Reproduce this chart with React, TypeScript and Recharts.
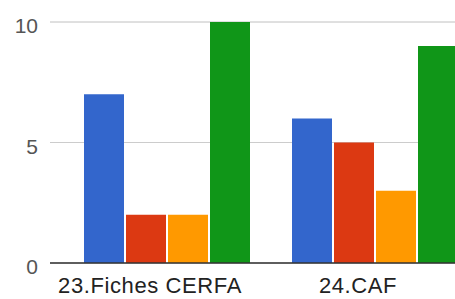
import React from "react";
import { BarChart, Bar, XAxis, YAxis, CartesianGrid } from "recharts";

const categories = ["23.Fiches CERFA", "24.CAF"];
const blueValues = [7, 6];
const redValues = [2, 5];
const orangeValues = [2, 3];
const greenValues = [10, 9];
const yTicks = [0, 5, 10];
const yMinorTicks = [0, 2.5, 5, 7.5, 10];

const data = categories.map((name, i) => ({
  name,
  blue: blueValues[i],
  red: redValues[i],
  orange: orangeValues[i],
  green: greenValues[i],
}));

const FONT = "'Liberation Sans', Arial, sans-serif";

const XTick = (props: any) => {
  const { x, y, payload } = props;
  return (
    <text
      x={x - 17}
      y={y + 30}
      textAnchor="middle"
      fill="#222"
      fontSize={22}
      letterSpacing={0.6}
      fontFamily={FONT}
    >
      {payload.value}
    </text>
  );
};

const YTick = (props: any) => {
  const { y, payload } = props;
  return (
    <text
      x={38}
      y={y + 4}
      dy="0.355em"
      textAnchor="end"
      fill="#555"
      fontSize={21}
      fontFamily={FONT}
    >
      {payload.value}
    </text>
  );
};

export default function App() {
  return (
    <div
      style={{
        position: "absolute",
        left: 0,
        top: 0,
        width: 455,
        height: 299,
        overflow: "hidden",
        background: "#fff",
      }}
    >
      <BarChart
        width={479}
        height={299}
        data={data}
        margin={{ top: 22, right: 0, bottom: 0, left: 0 }}
        barGap={2}
        barCategoryGap={21}
      >
        <CartesianGrid yAxisId="minor" vertical={false} stroke="#e6e6e6" />
        <CartesianGrid yAxisId="left" vertical={false} stroke="#cccccc" />
        <XAxis
          dataKey="name"
          height={36}
          padding={{ left: 13, right: 0 }}
          tickLine={false}
          tickSize={0}
          tickMargin={0}
          axisLine={{ stroke: "#333", strokeWidth: 1.5 }}
          tick={<XTick />}
        />
        <YAxis
          yAxisId="left"
          width={50}
          domain={[0, 10]}
          ticks={yTicks}
          axisLine={false}
          tickLine={false}
          tick={<YTick />}
        />
        <YAxis
          yAxisId="minor"
          hide
          domain={[0, 10]}
          ticks={yMinorTicks}
        />
        <Bar yAxisId="left" dataKey="blue" fill="#3366cc" isAnimationActive={false} />
        <Bar yAxisId="left" dataKey="red" fill="#dc3912" isAnimationActive={false} />
        <Bar yAxisId="left" dataKey="orange" fill="#ff9900" isAnimationActive={false} />
        <Bar yAxisId="left" dataKey="green" fill="#109618" isAnimationActive={false} />
      </BarChart>
    </div>
  );
}
